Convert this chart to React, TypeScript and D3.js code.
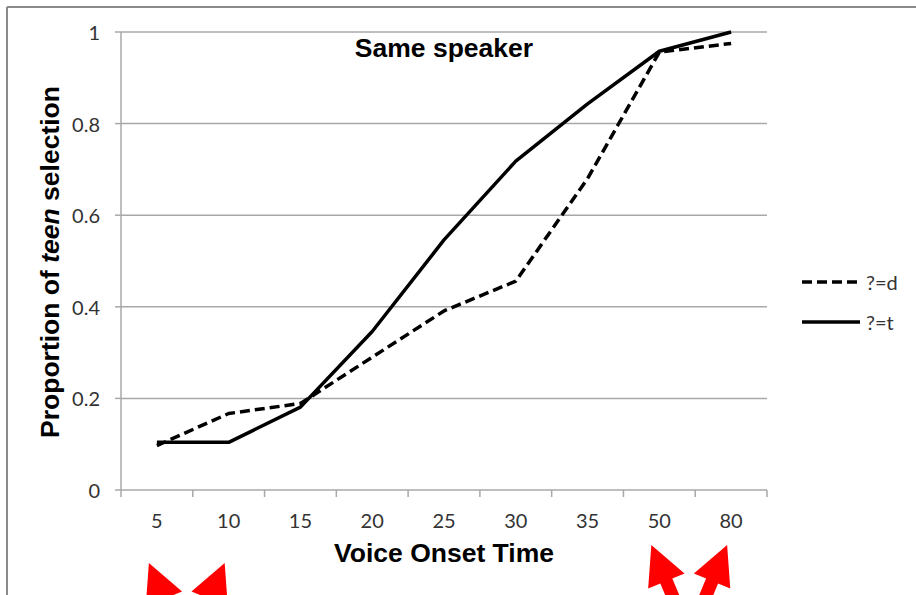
import React from "react";
import * as d3 from "d3";

const categories = ["5", "10", "15", "20", "25", "30", "35", "50", "80"];
const seriesD = [0.097, 0.167, 0.189, 0.29, 0.391, 0.456, 0.68, 0.956, 0.975];
const seriesT = [0.104, 0.104, 0.181, 0.346, 0.546, 0.718, 0.843, 0.958, 1.0];
const yTicks = [0, 0.2, 0.4, 0.6, 0.8, 1];
const seriesNames = ["?=d", "?=t"];
const arrowTargets = [
  { cat: "5", dir: -1, tipY: 563 },
  { cat: "10", dir: 1, tipY: 563 },
  { cat: "50", dir: -1, tipY: 545 },
  { cat: "80", dir: 1, tipY: 545 },
];

const W = 916;
const H = 595;
const M = { left: 121, right: 767, top: 32, bottom: 490 };

function arrowPath(tx: number, ty: number, dir: number) {
  // dir -1: pointing up-left; dir 1: pointing up-right
  const dx = -dir * 0.385;
  const dy = 0.923;
  const ppx = 0.923;
  const ppy = dir === -1 ? -0.385 : 0.385;
  const L = 39;
  const hw = 19.7;
  const sw = 6.5;
  const bx = tx + L * dx;
  const by = ty + L * dy;
  const c1 = [bx + hw * ppx, by + hw * ppy];
  const c2 = [bx - hw * ppx, by - hw * ppy];
  const s1 = [bx + sw * ppx, by + sw * ppy];
  const s2 = [bx - sw * ppx, by - sw * ppy];
  const ext = 80;
  const e1 = [s1[0] + ext * dx, s1[1] + ext * dy];
  const e2 = [s2[0] + ext * dx, s2[1] + ext * dy];
  return `M${tx},${ty} L${c1[0]},${c1[1]} L${s1[0]},${s1[1]} L${e1[0]},${e1[1]} L${e2[0]},${e2[1]} L${s2[0]},${s2[1]} L${c2[0]},${c2[1]} Z`;
}

export default function App() {
  const x = d3.scaleBand<string>().domain(categories).range([M.left, M.right]).padding(0);
  const y = d3.scaleLinear().domain([0, 1]).range([M.bottom, M.top]);
  const cx = (c: string) => (x(c) as number) + x.bandwidth() / 2;

  const line = d3
    .line<number>()
    .x((_, i) => cx(categories[i]))
    .y((v) => y(v));

  const tickFont = "Lato, 'Open Sans', sans-serif";
  const boldFont = "'Liberation Sans', Arial, sans-serif";
  const gridColor = "#a8a8a8";
  const textColor = "#333";

  const boundaries = categories.map((c) => x(c) as number).concat([M.right]);

  return (
    <svg
      width={W}
      height={H}
      style={{ position: "absolute", left: 0, top: 0, background: "#fff" }}
    >
      <rect x={0} y={0} width={W} height={H} fill="#fff" />
      {/* frame */}
      <line x1={7} y1={7} x2={W} y2={7} stroke="#8a8a8a" strokeWidth={2} />
      <line x1={7} y1={7} x2={7} y2={H} stroke="#8a8a8a" strokeWidth={2} />

      {/* gridlines */}
      {yTicks.map((t) => (
        <g key={t}>
          <line x1={M.left} x2={M.right} y1={y(t)} y2={y(t)} stroke={gridColor} strokeWidth={1.5} />
          <line x1={M.left - 6} x2={M.left} y1={y(t)} y2={y(t)} stroke={gridColor} strokeWidth={1.5} />
          <text
            x={100}
            y={y(t)}
            textAnchor="end"
            dominantBaseline="central"
            fontFamily={tickFont}
            fontSize={20}
            fill={textColor}
          >
            {d3.format("")(t)}
          </text>
        </g>
      ))}
      {/* y axis line */}
      <line x1={M.left} x2={M.left} y1={M.top} y2={M.bottom} stroke={gridColor} strokeWidth={1.5} />
      {/* x ticks */}
      {boundaries.map((b, i) => (
        <line key={i} x1={b} x2={b} y1={M.bottom} y2={M.bottom + 7} stroke={gridColor} strokeWidth={1.5} />
      ))}
      {categories.map((c) => (
        <text
          key={c}
          x={cx(c)}
          y={520}
          textAnchor="middle"
          dominantBaseline="central"
          fontFamily={tickFont}
          fontSize={20}
          fill={textColor}
        >
          {c}
        </text>
      ))}

      {/* series */}
      <path
        d={line(seriesD) as string}
        fill="none"
        stroke="#000"
        strokeWidth={3.5}
        strokeDasharray="10,5"
        strokeLinejoin="round"
      />
      <path d={line(seriesT) as string} fill="none" stroke="#000" strokeWidth={3.5} strokeLinejoin="round" />

      {/* title */}
      <text x={444} y={57} textAnchor="middle" fontFamily={boldFont} fontWeight="bold" fontSize={26.5} fill="#000">
        Same speaker
      </text>
      {/* x title */}
      <text x={444} y={562} textAnchor="middle" fontFamily={boldFont} fontWeight="bold" fontSize={26.5} fill="#000">
        Voice Onset Time
      </text>
      {/* y title */}
      <text
        transform="translate(59,262) rotate(-90)"
        textAnchor="middle"
        fontFamily={boldFont}
        fontWeight="bold"
        fontSize={26.5}
        fill="#000"
      >
        Proportion of <tspan fontStyle="italic">teen</tspan> selection
      </text>

      {/* legend */}
      <line x1={802} x2={860} y1={282} y2={282} stroke="#000" strokeWidth={3.5} strokeDasharray="10,5" />
      <text x={866} y={282} dominantBaseline="central" fontFamily={tickFont} fontSize={20} fill={textColor}>
        {seriesNames[0]}
      </text>
      <line x1={802} x2={860} y1={322} y2={322} stroke="#000" strokeWidth={3.5} />
      <text x={866} y={322} dominantBaseline="central" fontFamily={tickFont} fontSize={20} fill={textColor}>
        {seriesNames[1]}
      </text>

      {/* red arrows */}
      {arrowTargets.map((a, i) => (
        <path key={i} d={arrowPath(cx(a.cat) + (a.dir === -1 ? -8 : -4), a.tipY, a.dir)} fill="#ff0000" />
      ))}
    </svg>
  );
}
